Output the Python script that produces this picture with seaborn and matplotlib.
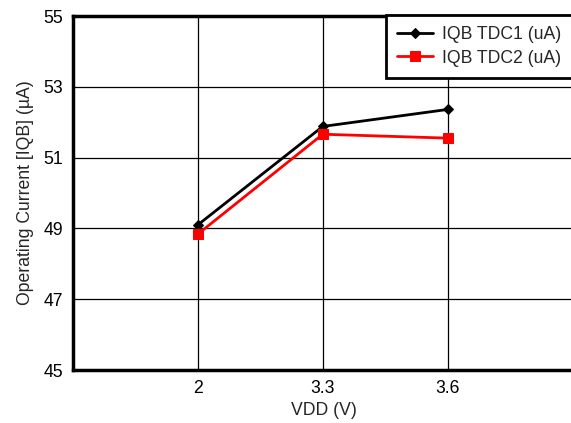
import matplotlib
matplotlib.use('Agg')
import matplotlib.pyplot as plt
import seaborn as sns

# Datos
vdd_labels = ['2', '3.3', '3.6']
iqb_tdc1 = [49.1, 51.88, 52.36]
iqb_tdc2 = [48.84, 51.66, 51.55]

sns.set_style('white')
plt.rcParams['font.family'] = ['Liberation Sans', 'DejaVu Sans']

fig = plt.figure(figsize=(5.71, 4.23), dpi=100)
ax = fig.add_axes([73 / 571, 53 / 423, 502 / 571, 354 / 423])

sns.lineplot(x=vdd_labels, y=iqb_tdc1, ax=ax, color='black', marker='D',
             markersize=5, markeredgecolor='black', linewidth=2, label='IQB TDC1 (uA)')
sns.lineplot(x=vdd_labels, y=iqb_tdc2, ax=ax, color='red', marker='s',
             markersize=7, markeredgecolor='red', linewidth=2, label='IQB TDC2 (uA)')

ax.set_xlim(-1, 3.02)
ax.set_ylim(45, 55)
ax.set_yticks([45, 47, 49, 51, 53, 55])
ax.grid(True, color='black', linewidth=0.9)
ax.set_axisbelow(True)

for side in ['left', 'bottom', 'top', 'right']:
    ax.spines[side].set_color('black')
    ax.spines[side].set_linewidth(2.5)

ax.tick_params(axis='both', labelsize=12.7, length=0, pad=7, colors='black')
ax.set_xlabel('VDD (V)', fontsize=12.7, labelpad=4)
ax.set_ylabel('Operating Current [IQB] (µA)', fontsize=12.7, labelpad=7)

leg = ax.legend(loc='upper left', bbox_to_anchor=(386 / 571, 1 - 15 / 423),
                bbox_transform=fig.transFigure, borderaxespad=0, fontsize=12.7,
                fancybox=False, framealpha=1, handlelength=2.0, labelspacing=0.35,
                handletextpad=0.5, borderpad=0.65)
leg.get_frame().set_edgecolor('black')
leg.get_frame().set_linewidth(2)

fig.savefig('out.png', dpi=100)
